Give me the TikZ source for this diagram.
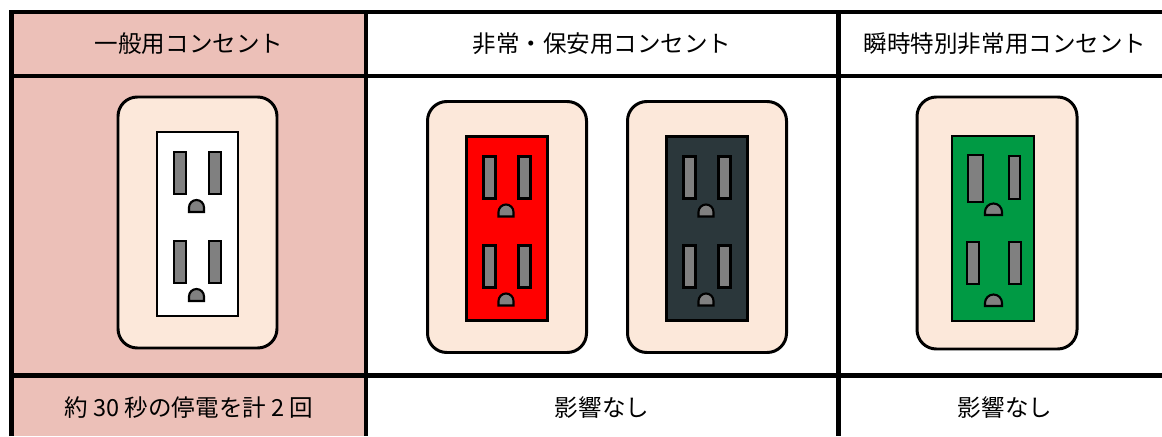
\documentclass[tikz,border=0pt]{standalone}
\usepackage{fontspec}
\usepackage[dvipsnames,svgnames]{xcolor}
\usepackage[]{tikz}
\setmainfont{Noto Sans CJK JP}
\definecolor{cellpink}{RGB}{236,192,184}
\definecolor{platecream}{RGB}{252,232,218}
\definecolor{slotgray}{RGB}{128,128,128}
\definecolor{darkface}{RGB}{43,55,59}
\definecolor{greenface}{RGB}{0,154,68}

\begin{document}
\begin{tikzpicture}[x=0.02cm,y=-0.02cm, %1px=0.02cm, y向下
    cell/.style={font=\fontsize{13.4pt}{16pt}\selectfont, inner sep=0pt},
    grid/.style={line width=2.3pt},
    plate/.style={draw, line width=1.7pt, fill=platecream, rounded corners=11pt},
    face/.style={draw, line width=1.5pt},
    slot/.style={draw, line width=1.2pt, fill=slotgray}]
    \useasboundingbox (0,0) rectangle (1162,436);
    \fill[cellpink] (11.5,12) rectangle (366,436);  % 左列底色
    % 插座
    \foreach \cx/\cy/\col in {197.5/222.5/white, 507/227/red, 707/227/darkface}{
        \draw[plate] (\cx-79.5,\cy-125.5) rectangle (\cx+79.5,\cy+125.5);
        \draw[face,fill=\col] (\cx-40.5,\cy-90.5) rectangle (\cx+40.5,\cy+93.5);
        \foreach \sy in {-70.5,18.5}{
            \draw[slot] (\cx-23.5,\cy+\sy) rectangle (\cx-11.5,\cy+\sy+42);
            \draw[slot] (\cx+11.5,\cy+\sy) rectangle (\cx+23.5,\cy+\sy+42);
            \draw[slot] (\cx-8.5,\cy+\sy+60) -- ++(0,-4.5) arc (180:360:7.5) -- ++(0,4.5) -- cycle;
        }
    }
    \draw[plate] (917,97) rectangle (1077,349);
    \draw[face,fill=greenface] (952,136) rectangle (1034,321);
    \draw[slot] (968,155) rectangle (983,202);
    \draw[slot] (1009,156) rectangle (1020,199);
    \draw[slot] (985,215) -- ++(0,-3) arc (180:360:8.5) -- ++(0,3) -- cycle;
    \draw[slot] (967,242) rectangle (979,284);
    \draw[slot] (1009,242) rectangle (1021,284);
    \draw[slot] (985,306) -- ++(0,-3) arc (180:360:8.5) -- ++(0,3) -- cycle;
    % 表格线
    \draw[grid] (11.5,436) -- (11.5,12) -- (1162,12);
    \draw[grid] (11.5,76) -- (1162,76);
    \draw[grid] (11.5,375.5) -- (1162,375.5);
    \draw[grid] (366,12) -- (366,436);
    \draw[grid] (838.5,12) -- (838.5,436);
    % 文字
    \node[cell] (hdrgeneral) at (189,44) {一般用コンセント};
    \node[cell] (hdremergency) at (602,44) {非常・保安用コンセント};
    \node[cell] (hdrinstant) at (1005,44) {瞬時特別非常用コンセント};
    \node[cell] (effgeneral) at (189,408) {約 30 秒の停電を計 2 回};
    \node[cell] (effemergency) at (602,408) {影響なし};
    \node[cell] (effinstant) at (1005,408) {影響なし};
\end{tikzpicture}
\end{document}
